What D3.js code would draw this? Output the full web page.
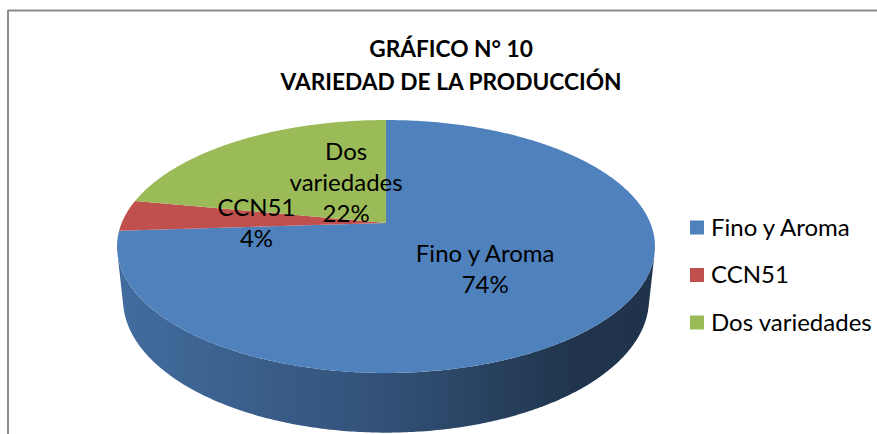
<!DOCTYPE html>
<html>
<head>
<meta charset="utf-8">
<script src="https://cdn.jsdelivr.net/npm/d3@7"></script>
<style>
  html, body { margin: 0; padding: 0; background: #fff; }
  svg text { font-family: Lato, "Noto Sans", sans-serif; fill: #000; }
</style>
</head>
<body>
<div id="chart"></div>
<script>
// datos del gráfico
const categories = ["Fino y Aroma", "CCN51", "Dos variedades"];
const values = [74, 4, 22];
const colors = ["#4f81bd", "#c0504d", "#9bbb59"];
const titleLines = ["GRÁFICO N° 10", "VARIEDAD DE LA PRODUCCIÓN"];

// posición de las etiquetas (ángulo en grados, fracción del radio)
const labelSpots = [[135.5, 0.5], [270, 0.49], [335, 0.38]];

const width = 877, height = 434;

const svg = d3.select("#chart")
    .append("svg")
    .attr("width", width)
    .attr("height", height);

// marco
svg.append("line")
    .attr("x1", 8).attr("y1", 10.5).attr("x2", width).attr("y2", 10.5)
    .attr("stroke", "#8c8c8c").attr("stroke-width", 2);
svg.append("line")
    .attr("x1", 8).attr("y1", 10).attr("x2", 8).attr("y2", height)
    .attr("stroke", "#8c8c8c").attr("stroke-width", 2);

// título
svg.append("g")
    .selectAll("text")
    .data(titleLines)
    .join("text")
    .attr("x", 451)
    .attr("y", (d, i) => 57 + i * 33)
    .attr("text-anchor", "middle")
    .attr("font-weight", "bold")
    .attr("font-size", 22.7)
    .text(d => d);

// proyección en perspectiva del pastel 3D
const cx = 386, cy = 223, R = 264.3, depth = 60, D = 1262;
const phi = Math.asin(0.462);
const sinP = Math.sin(phi), cosP = Math.cos(phi);

function proj(theta, r, y) {
    const X = r * Math.sin(theta);
    const Z = r * Math.cos(theta);
    const v = Z * sinP + y * cosP;
    const w = Z * cosP - y * sinP;
    const s = D / (D + w);
    return [cx + X * s, cy - v * s];
}

function arcPoints(a0, a1, y) {
    const n = Math.max(2, Math.ceil(Math.abs(a1 - a0) / 0.01));
    return d3.range(n + 1).map(i => proj(a0 + (a1 - a0) * i / n, R, y));
}

const arcs = d3.pie().sort(null).value(d => d)(values);

// ángulos de la silueta lateral
const cosT = -R / (D * cosP);
const sideA = Math.acos(cosT), sideB = 2 * Math.PI - Math.acos(cosT);

const line = d3.line();

// degradado del costado
const defs = svg.append("defs");
arcs.forEach((a, i) => {
    const base = d3.color(colors[i]);
    const g = defs.append("linearGradient")
        .attr("id", "side" + i)
        .attr("gradientUnits", "userSpaceOnUse")
        .attr("x1", cx - R).attr("x2", cx + R)
        .attr("y1", 0).attr("y2", 0);
    g.append("stop").attr("offset", 0).attr("stop-color", base.darker(0.5));
    g.append("stop").attr("offset", 0.5).attr("stop-color", base.darker(1.3));
    g.append("stop").attr("offset", 0.85).attr("stop-color", base.darker(2.5));
    g.append("stop").attr("offset", 1).attr("stop-color", base.darker(2.6));
});

// costados visibles
svg.append("g")
    .selectAll("path")
    .data(arcs.filter(a => Math.min(a.endAngle, sideB) > Math.max(a.startAngle, sideA)))
    .join("path")
    .attr("fill", d => `url(#side${d.index})`)
    .attr("d", d => {
        const a0 = Math.max(d.startAngle, sideA), a1 = Math.min(d.endAngle, sideB);
        const pts = arcPoints(a0, a1, 0).concat(arcPoints(a1, a0, -depth));
        return line(pts) + "Z";
    });

// caras superiores
svg.append("g")
    .selectAll("path")
    .data(arcs)
    .join("path")
    .attr("fill", d => colors[d.index])
    .attr("d", d => line([proj(0, 0, 0)].concat(arcPoints(d.startAngle, d.endAngle, 0))) + "Z");

// etiquetas de datos
const total = d3.sum(values);
const labels = svg.append("g")
    .selectAll("text")
    .data(arcs)
    .join("text")
    .attr("text-anchor", "middle")
    .attr("font-size", 24);

labels.each(function(d) {
    const spot = labelSpots[d.index];
    const p = proj(spot[0] * Math.PI / 180, spot[1] * R, 0);
    const words = categories[d.index] === "Dos variedades"
        ? ["Dos", "variedades"] : [categories[d.index]];
    const lines = words.concat([Math.round(d.value / total * 100) + "%"]);
    const lh = 31;
    const top = p[1] - (lines.length - 1) * lh / 2 + 8;
    d3.select(this).selectAll("tspan")
        .data(lines)
        .join("tspan")
        .attr("x", p[0])
        .attr("y", (t, j) => top + j * lh)
        .text(t => t);
});

// leyenda
const legend = svg.append("g")
    .selectAll("g")
    .data(categories)
    .join("g")
    .attr("transform", (d, i) => `translate(690, ${227.5 + i * 47.5})`);

legend.append("rect")
    .attr("x", 0).attr("y", -7)
    .attr("width", 14).attr("height", 14)
    .attr("fill", (d, i) => colors[i]);

legend.append("text")
    .attr("x", 21)
    .attr("y", 8)
    .attr("font-size", 24)
    .text(d => d);
</script>
</body>
</html>
